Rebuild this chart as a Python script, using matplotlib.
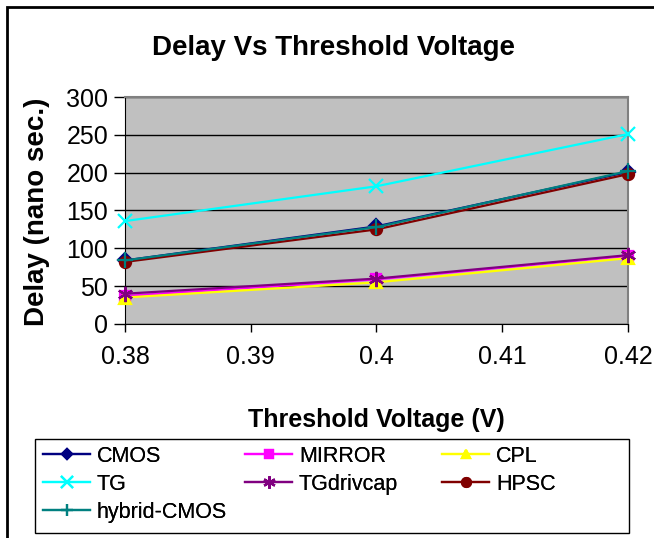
import matplotlib.pyplot as plt
from matplotlib.patches import Rectangle

plt.rcParams['font.family'] = ['Liberation Sans', 'DejaVu Sans']

# threshold voltage (V)
vth = [0.38, 0.40, 0.42]

# delay in nano seconds
cmos = [84, 129, 201]
mirror = [37, 59, 90]
cpl = [35, 55, 87]
tg = [136, 182, 251]
tgdrivcap = [40, 60, 91]
hpsc = [82, 125, 198]
hybrid_cmos = [84, 128, 202]

series = [
    ('CMOS', cmos, '#000080', 'D', 7),
    ('MIRROR', mirror, '#FF00FF', 's', 7),
    ('CPL', cpl, '#FFFF00', '^', 8),
    ('TG', tg, '#00FFFF', 'x', 10),
    ('TGdrivcap', tgdrivcap, '#800080', (6, 2, 0), 11),
    ('HPSC', hpsc, '#800000', 'o', 8),
    ('hybrid-CMOS', hybrid_cmos, '#008080', '+', 11),
]

fig = plt.figure(figsize=(6.54, 5.38), dpi=100)
ax = fig.add_axes([0.1911, 0.3978, 0.7691, 0.4219])
ax.set_facecolor('#C0C0C0')

lines = {}
for name, vals, col, mk, ms in series:
    ln, = ax.plot(vth, vals, color=col, marker=mk, markersize=ms, lw=1.6,
                  markeredgewidth=1.6, label=name, clip_on=False, zorder=3)
    lines[name] = ln

ax.set_xlim(0.38, 0.42)
ax.set_ylim(0, 300)
ax.set_xticks([0.38, 0.39, 0.40, 0.41, 0.42])
ax.set_xticklabels(['0.38', '0.39', '0.4', '0.41', '0.42'])
ax.set_yticks(range(0, 301, 50))
ax.yaxis.grid(True, color='black', lw=1)
ax.set_axisbelow(True)
ax.tick_params(axis='x', direction='out', length=6, width=1, pad=9, labelsize=18)
ax.tick_params(axis='y', direction='out', length=8, width=1, pad=4, labelsize=18)
for s in ['left', 'bottom']:
    ax.spines[s].set_color('black')
for s in ['top', 'right']:
    ax.spines[s].set_color('#808080')
    ax.spines[s].set_linewidth(1.5)

fig.text(0.51, 0.91, 'Delay Vs Threshold Voltage', ha='center', va='center',
         fontsize=20, fontweight='bold')
fig.text(0.057, 0.606, 'Delay (nano sec.)', ha='center', va='center',
         rotation=90, fontsize=20, fontweight='bold')
fig.text(0.575, 0.219, 'Threshold Voltage (V)', ha='center', va='center',
         fontsize=18, fontweight='bold')

# legend: three columns, filled row by row
columns = [['CMOS', 'TG', 'hybrid-CMOS'], ['MIRROR', 'TGdrivcap'], ['CPL', 'HPSC']]
col_x = [43, 245, 442]
for names, x in zip(columns, col_x):
    lg = fig.legend([lines[n] for n in names], names, loc='upper left',
                    bbox_to_anchor=(x / 654, 1 - 446 / 538), fontsize=15.5,
                    handlelength=2.2, handletextpad=0.3, labelspacing=0.32,
                    borderpad=0, borderaxespad=0, markerscale=0.8, frameon=False)
    fig.add_artist(lg)

fig.patches.append(Rectangle((35 / 654, 1 - 533 / 538), 594 / 654, 94 / 538,
                             transform=fig.transFigure, fill=False,
                             edgecolor='black', lw=1))

# outer chart border (cropped on right and bottom)
fig.patches.append(Rectangle((7 / 654, -0.05), 1.0, 1.05 - 7 / 538,
                             transform=fig.transFigure, fill=False,
                             edgecolor='black', lw=2))

fig.savefig('out.png', dpi=100)
